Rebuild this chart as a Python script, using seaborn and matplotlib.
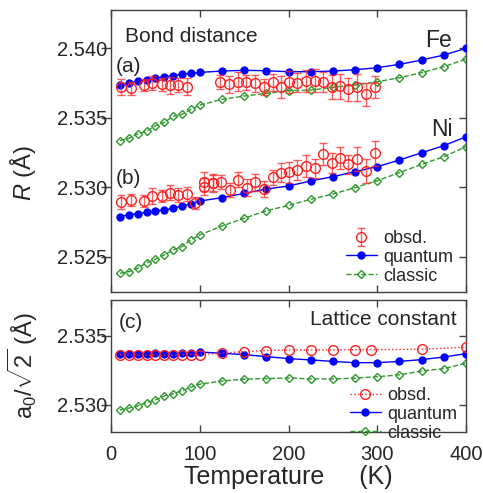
import matplotlib
matplotlib.use("Agg")
import matplotlib.pyplot as plt
import seaborn as sns

# temperatures of the calculated curves (K)
temp_calc = [10, 20, 30, 40, 50, 60, 70, 80, 90, 100,
             125, 150, 175, 200, 225, 250, 275, 300, 325, 350, 375, 400]

# (a) Fe bond distance (A)
fe_quantum = [2.53736, 2.53753, 2.53763, 2.53774, 2.53786, 2.53796, 2.53803, 2.53815, 2.53820, 2.53827,
              2.53837, 2.53842, 2.53839, 2.53832, 2.53832, 2.53837, 2.53846, 2.53861, 2.53885, 2.53916,
              2.53952, 2.54000]
fe_classic = [2.53336, 2.53353, 2.53384, 2.53403, 2.53443, 2.53468, 2.53511, 2.53525, 2.53561, 2.53592,
              2.53633, 2.53657, 2.53676, 2.53695, 2.53700, 2.53720, 2.53736, 2.53760, 2.53789, 2.53825,
              2.53868, 2.53923]
fe_obs_temp = [11, 22, 37, 46, 57, 66, 76, 86,
               123, 133, 143, 152, 162, 172, 182, 191, 201, 210, 220, 230, 239, 249, 258, 267, 277, 287, 297]
fe_obs = [2.53724, 2.53712, 2.53736, 2.53748, 2.53741, 2.53736, 2.53736, 2.53724,
          2.53760, 2.53741, 2.53760, 2.53756, 2.53748, 2.53724, 2.53756, 2.53724, 2.53756, 2.53753,
          2.53767, 2.53767, 2.53760, 2.53720, 2.53729, 2.53705, 2.53720, 2.53669, 2.53720]
fe_obs_err = [0.00056, 0.00049, 0.00046, 0.00051, 0.00049, 0.00061, 0.00051, 0.00061,
              0.00049, 0.00061, 0.00067, 0.00055, 0.00060, 0.00058, 0.00060, 0.00079, 0.00079, 0.00069,
              0.00079, 0.00083, 0.00073, 0.00085, 0.00090, 0.00085, 0.00097, 0.00085, 0.00080]

# (b) Ni bond distance (A)
ni_quantum = [2.52789, 2.52804, 2.52811, 2.52821, 2.52832, 2.52837, 2.52850, 2.52866, 2.52880, 2.52902,
              2.52926, 2.52957, 2.52988, 2.53010, 2.53046, 2.53077, 2.53113, 2.53149, 2.53197, 2.53249,
              2.53300, 2.53364]
ni_classic = [2.52382, 2.52394, 2.52418, 2.52458, 2.52483, 2.52514, 2.52550, 2.52574, 2.52622, 2.52658,
              2.52722, 2.52778, 2.52832, 2.52870, 2.52914, 2.52952, 2.52998, 2.53048, 2.53106, 2.53166,
              2.53221, 2.53293]
ni_obs_temp = [11, 22, 37, 46, 57, 66, 76, 86, 95, 105, 105, 115, 115,
               124, 134, 143, 153, 162, 172, 182, 191, 201, 210, 220, 230, 239, 249, 258, 267, 277, 287, 297]
ni_obs = [2.52897, 2.52909, 2.52904, 2.52938, 2.52938, 2.52962, 2.52945, 2.52952, 2.52888,
          2.53041, 2.53005, 2.53029, 2.53034,
          2.53037, 2.52981, 2.53056, 2.52999, 2.53037, 2.52988, 2.53072, 2.53106, 2.53108, 2.53125,
          2.53156, 2.53137, 2.53238, 2.53177, 2.53213, 2.53166, 2.53204, 2.53120, 2.53245]
ni_obs_err = [0.00049, 0.00046, 0.00043, 0.00055, 0.00046, 0.00055, 0.00049, 0.00049, 0.00045,
              0.00070, 0.00060, 0.00060, 0.00060,
              0.00050, 0.00050, 0.00055, 0.00060, 0.00060, 0.00060, 0.00055, 0.00070, 0.00073, 0.00073,
              0.00079, 0.00070, 0.00079, 0.00073, 0.00081, 0.00067, 0.00085, 0.00085, 0.00089]

# (c) lattice constant a0/sqrt(2) (A)
lat_quantum = [2.53368, 2.53368, 2.53368, 2.53368, 2.53373, 2.53368, 2.53368, 2.53377, 2.53375, 2.53382,
               2.53373, 2.53363, 2.53349, 2.53334, 2.53325, 2.53314, 2.53305, 2.53305, 2.53314, 2.53327,
               2.53346, 2.53370]
lat_classic = [2.52964, 2.52977, 2.52993, 2.53017, 2.53036, 2.53065, 2.53080, 2.53103, 2.53128, 2.53150,
               2.53173, 2.53186, 2.53190, 2.53195, 2.53188, 2.53188, 2.53193, 2.53204, 2.53217, 2.53245,
               2.53262, 2.53301]
lat_obs_temp = [10, 20, 30, 40, 50, 60, 70, 80, 90, 100, 125, 150, 175, 200, 225, 250, 275, 293, 350, 400]
lat_obs = [2.53363, 2.53363, 2.53361, 2.53359, 2.53359, 2.53359, 2.53359, 2.53361, 2.53363, 2.53363,
           2.53373, 2.53385, 2.53392, 2.53397, 2.53397, 2.53397, 2.53399, 2.53399, 2.53402, 2.53416]

blue = "#0000ff"
red = "#ff2020"
green = "#2e9a2e"

sns.set_style("ticks")
plt.rcParams["font.family"] = ["Liberation Sans", "DejaVu Sans"]
plt.rcParams["mathtext.fontset"] = "custom"
plt.rcParams["mathtext.rm"] = "Liberation Sans"
plt.rcParams["mathtext.it"] = "Liberation Sans:italic"
plt.rcParams["axes.edgecolor"] = "#404040"
plt.rcParams["axes.linewidth"] = 1.0

W, H = 483, 493
fig = plt.figure(figsize=(W / 100, H / 100), dpi=100)
ax1 = fig.add_axes([111 / W, 1 - 291.5 / H, 355 / W, 281.5 / H])
ax2 = fig.add_axes([111 / W, 1 - 432 / H, 355 / W, 132 / H])


def quantum(ax, y):
    sns.lineplot(x=temp_calc, y=y, ax=ax, color=blue, linewidth=1, marker="o",
                 markersize=6, markeredgewidth=0, zorder=3)
    return ax.lines[-1]


def classic(ax, y):
    sns.lineplot(x=temp_calc, y=y, ax=ax, color=green, linewidth=1, linestyle="--",
                 marker="D", markersize=4, markerfacecolor="none", markeredgecolor=green,
                 markeredgewidth=1, zorder=2)
    return ax.lines[-1]


def observed(ax, t, y, e):
    return ax.errorbar(t, y, yerr=e, fmt="o", markersize=7, markerfacecolor="none",
                       markeredgecolor=red, markeredgewidth=1, ecolor=(1, 0.15, 0.15, 0.75),
                       elinewidth=1, capsize=3, capthick=1, zorder=4)


# top panel: bond distance
h_cl = classic(ax1, fe_classic)
classic(ax1, ni_classic)
h_qu = quantum(ax1, fe_quantum)
quantum(ax1, ni_quantum)
h_ob = observed(ax1, fe_obs_temp, fe_obs, fe_obs_err)
observed(ax1, ni_obs_temp, ni_obs, ni_obs_err)

ax1.set_xlim(0, 400)
ax1.set_ylim(2.52251, 2.54276)
ax1.set_yticks([2.525, 2.530, 2.535, 2.540])
ax1.set_yticklabels(["2.525", "2.530", "2.535", "2.540"])
ax1.set_xticks([0, 100, 200, 300, 400])
ax1.set_xticklabels([])
ax1.set_ylabel("$R$ (Å)", fontsize=17)
ax1.yaxis.set_label_coords(-0.205, 0.42)

ax1.legend([h_ob, h_qu, h_cl], ["obsd.", "quantum", "classic"], loc="upper left",
           bbox_to_anchor=(346 / W, 1 - 230 / H), bbox_transform=fig.transFigure,
           frameon=False, fontsize=13, handlelength=1.7, handletextpad=0.35,
           labelspacing=0.1, borderpad=0, borderaxespad=0)

# bottom panel: lattice constant
l_cl = classic(ax2, lat_classic)
l_qu = quantum(ax2, lat_quantum)
sns.lineplot(x=lat_obs_temp, y=lat_obs, ax=ax2, color=red, linewidth=1, linestyle=":",
             marker="o", markersize=7, markerfacecolor="none", markeredgecolor=red,
             markeredgewidth=1, zorder=4)
l_ob = ax2.lines[-1]

ax2.set_xlim(0, 400)
ax2.set_ylim(2.52805, 2.53757)
ax2.set_yticks([2.530, 2.535])
ax2.set_yticklabels(["2.530", "2.535"])
ax2.set_xticks([0, 100, 200, 300, 400])
ax2.set_xlabel("Temperature     (K)", fontsize=18, labelpad=1)
ax2.set_ylabel(r"$\mathrm{a_0}/\sqrt{2}$ (Å)", fontsize=17)
ax2.yaxis.set_label_coords(-0.2, 0.5)

ax2.legend([l_ob, l_qu, l_cl], ["obsd.", "quantum", "classic"], loc="upper left",
           bbox_to_anchor=(350 / W, 1 - 387 / H), bbox_transform=fig.transFigure,
           frameon=False, fontsize=13, handlelength=1.7, handletextpad=0.35,
           labelspacing=0.1, borderpad=0, borderaxespad=0)

for ax in (ax1, ax2):
    ax.tick_params(axis="both", labelsize=14.5, width=1, color="#404040")
    ax.tick_params(axis="y", right=True, direction="in", length=5, left=False, pad=3)
    ax.tick_params(axis="x", top=True, bottom=True, direction="in", length=5, pad=9)

# left ticks point outward, the rest inward
for ax in (ax1, ax2):
    for tl in ax.yaxis.get_major_ticks():
        tl.tick1line.set_visible(True)
        tl.tick1line.set_marker(matplotlib.lines.TICKLEFT)
        tl.tick1line.set_markersize(7)

fig.text(125 / W, 1 - 42.3 / H, "Bond distance", fontsize=15, va="baseline")
fig.text(116 / W, 1 - 71.7 / H, "(a)", fontsize=15, va="baseline")
fig.text(116 / W, 1 - 184.3 / H, "(b)", fontsize=15, va="baseline")
fig.text(452.3 / W, 1 - 47.3 / H, "Fe", fontsize=16.5, va="baseline", ha="right")
fig.text(452.7 / W, 1 - 136 / H, "Ni", fontsize=16.5, va="baseline", ha="right")
fig.text(119 / W, 1 - 328.3 / H, "(c)", fontsize=15, va="baseline")
fig.text(456.7 / W, 1 - 325 / H, "Lattice constant", fontsize=15, va="baseline", ha="right")

fig.savefig("out.png", dpi=100)
